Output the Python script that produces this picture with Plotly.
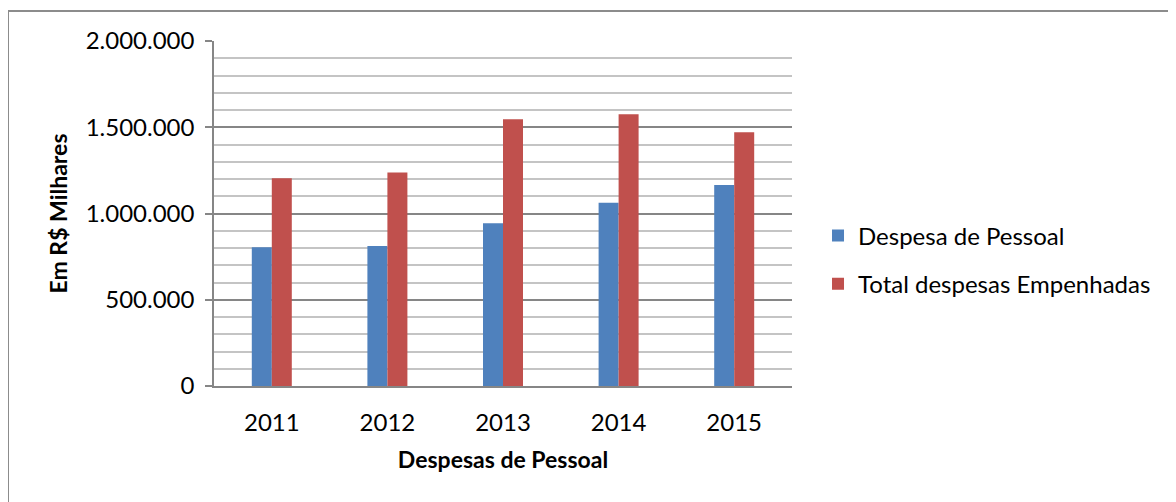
import plotly.graph_objects as go

years = ["2011", "2012", "2013", "2014", "2015"]
despesa_pessoal = [804000, 811000, 943000, 1063000, 1165000]
total_empenhadas = [1204000, 1237000, 1546000, 1575000, 1471000]

FONT = "Lato, 'Open Sans', sans-serif"

fig = go.Figure()
fig.add_trace(go.Bar(x=years, y=despesa_pessoal, name="Despesa de Pessoal",
                     marker_color="#4F81BD", marker_line_width=0, legendgroup="a"))
fig.add_trace(go.Bar(x=years, y=total_empenhadas, name="Total despesas Empenhadas",
                     marker_color="#C0504D", marker_line_width=0, legendgroup="b"))

# page body adds an 8px offset, so the figure is sized to 1168x494
fig.update_layout(
    width=1168, height=494,
    margin=dict(l=206, r=384, t=33, b=116),
    paper_bgcolor="white", plot_bgcolor="white",
    font=dict(family=FONT, size=24, color="black"),
    separators=",.",
    barmode="group", bargap=0.654, bargroupgap=0,
    legend=dict(x=1.045, y=0.5, xanchor="left", yanchor="top",
                tracegroupgap=14, font=dict(size=24)),
    showlegend=True,
)
fig.update_yaxes(
    range=[0, 2000000], dtick=500000, tickformat=",d",
    showgrid=True, gridcolor="#868686", gridwidth=1.5,
    minor=dict(dtick=100000, showgrid=True, gridcolor="#C4C4C4", gridwidth=1.5),
    showline=True, linecolor="#868686", linewidth=1.5,
    ticks="outside", ticklen=7, tickcolor="#868686", tickwidth=1.5,
    ticklabelstandoff=6,
    zeroline=False,
    title=dict(text="<b>Em R$ Milhares</b>", font=dict(size=23), standoff=12),
)
fig.update_xaxes(
    showline=True, linecolor="#868686", linewidth=2,
    ticks="", showgrid=False, ticklabelstandoff=14,
    title=dict(text="<b>Despesas de Pessoal</b>", font=dict(size=23), standoff=17),
)

# outer chart frame
fig.add_shape(type="rect", xref="paper", yref="paper",
              x0=-0.3564, x1=1.68, y0=-0.40, y1=1.087,
              line=dict(color="#8C8C8C", width=2), layer="below")

fig.write_html("out.html")
